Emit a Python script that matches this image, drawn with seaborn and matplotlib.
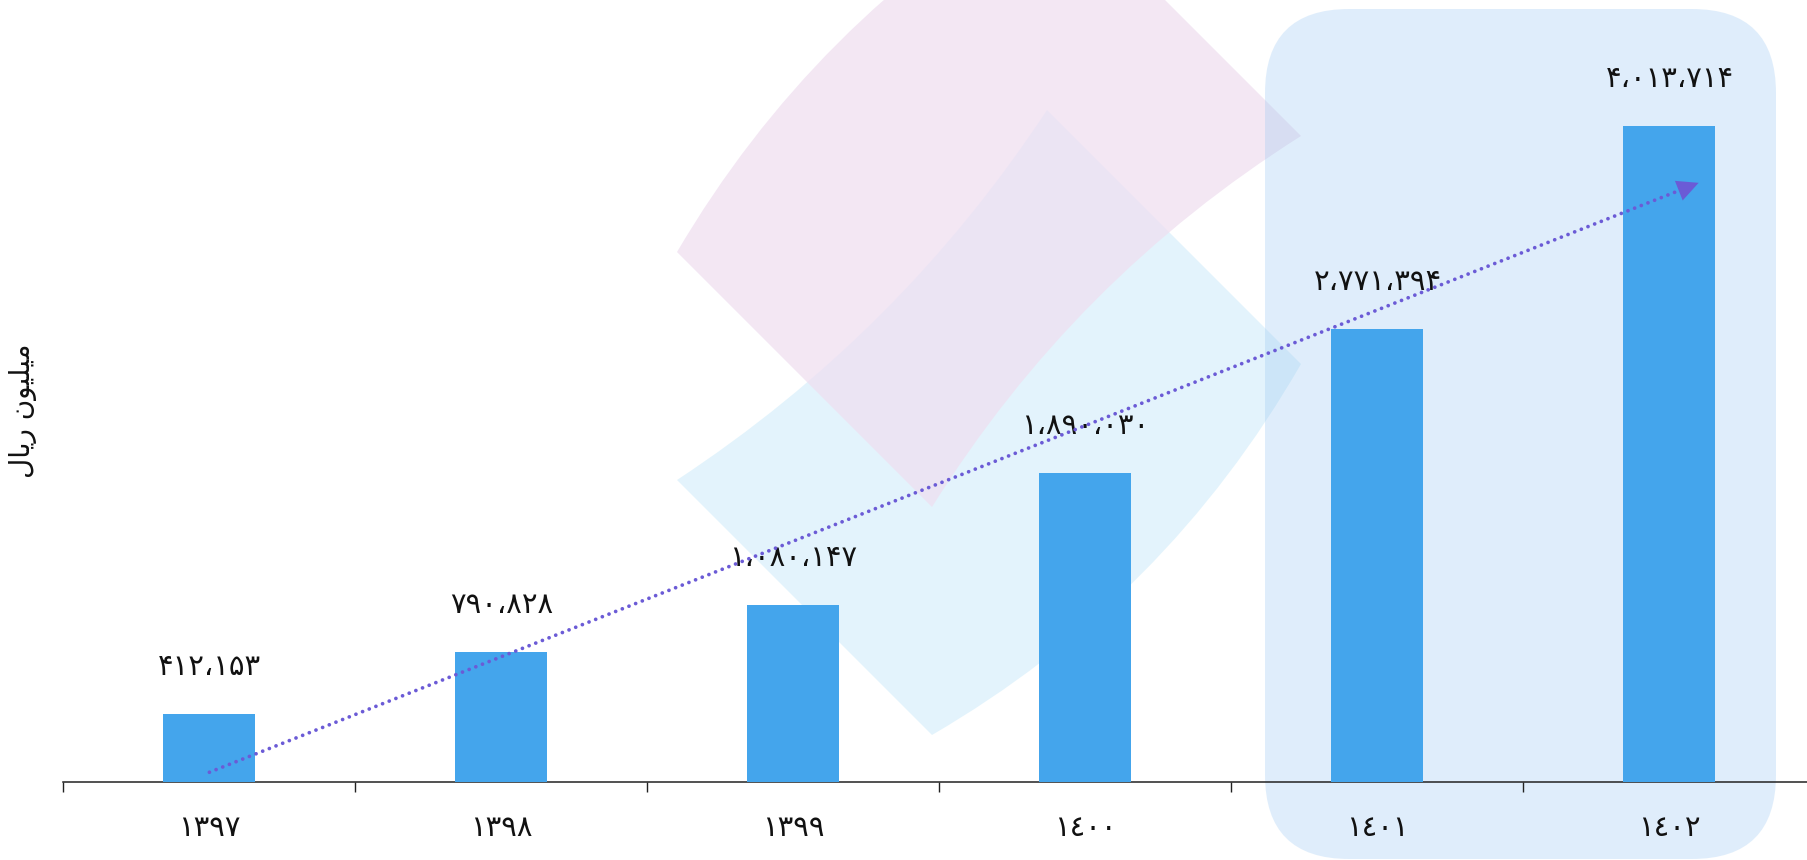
import numpy as np
import seaborn as sns
import matplotlib.pyplot as plt
from matplotlib.path import Path
from matplotlib.patches import PathPatch, FancyBboxPatch

# داده ها
years = ['١٣٩٧', '١٣٩٨', '١٣٩٩', '١٤٠٠', '١٤٠١', '١٤٠٢']
values = [412153, 790828, 1080147, 1890030, 2771394, 4013714]
# "میلیون ریال" with presentation forms, visual order
y_label = '\uFEDD\uFE8E\uFEF3\uFEAD \uFEE5\uFEEE\uFEF4\uFEE0\uFEF4\uFEE3'

bar_color = '#44a5ec'
trend_color = '#6b5bd6'

sns.set_style('white')
plt.rcParams['font.family'] = ['DejaVu Sans']

fa_digits = str.maketrans('0123456789,', '۰۱۲۳۴۵۶۷۸۹،')


def fa_num(v):
    return f'{v:,}'.translate(fa_digits)


W, H = 1807, 860
fig = plt.figure(figsize=(W / 100, H / 100), dpi=100)

# پس زمینه: لوگو و کادر
bg = fig.add_axes([0, 0, 1, 1], zorder=0)
bg.set_xlim(0, W)
bg.set_ylim(H, 0)
bg.axis('off')


def band(L, B, R, T, s_br, s_tl, n):
    L, B, R, T, n = map(np.array, (L, B, R, T, n))
    c1 = (B + R) / 2 + 2 * s_br * n
    c2 = (T + L) / 2 + 2 * s_tl * n
    verts = [L, B, c1, R, T, c2, L, L]
    codes = [Path.MOVETO, Path.LINETO, Path.CURVE3, Path.CURVE3,
             Path.LINETO, Path.CURVE3, Path.CURVE3, Path.CLOSEPOLY]
    return Path(verts, codes)


dr = (0.7071, 0.7071)
ul = (-0.7071, -0.7071)
blue_path = band((677, 480), (932, 735), (1301, 364), (1047, 110), 35, 27, dr)
pink_path = band((677, 252), (932, 507), (1301, 136), (1047, -118), 30, 34, ul)
bg.add_patch(PathPatch(blue_path, facecolor='#daf0fb', edgecolor='none', alpha=0.75, zorder=1))
bg.add_patch(PathPatch(pink_path, facecolor='#efdff0', edgecolor='none', alpha=0.75, zorder=2))

bg.add_patch(FancyBboxPatch((1265, 9), 511, 850,
                            boxstyle='round,pad=0,rounding_size=84',
                            facecolor='#98c6f2', edgecolor='none', alpha=0.3, zorder=3))

# نمودار اصلی
ax = fig.add_axes([63.4 / W, (H - 781.7) / H, 1752 / W, 784.2 / H], zorder=1)
ax.patch.set_alpha(0)

sns.barplot(x=years, y=values, ax=ax, color=bar_color, saturation=1,
            width=0.315, errorbar=None, linewidth=0, edgecolor='none', zorder=3)

for i, v in enumerate(values):
    ax.annotate(fa_num(v), (i, v), xytext=(0, 34), textcoords='offset points',
                ha='center', va='center', fontsize=21, color='#111111', zorder=5)

# خط روند
coef = np.polyfit(np.arange(len(values)), values, 1)
x_end = 5.1
xs = np.array([0, x_end - 0.04])
ax.plot(xs, np.polyval(coef, xs), color=trend_color, lw=2.7,
        linestyle=(0, (0.01, 1.9)), dash_capstyle='round', zorder=6)
ax.annotate('', xy=(x_end, np.polyval(coef, x_end)),
            xytext=(x_end - 0.06, np.polyval(coef, x_end - 0.06)),
            arrowprops=dict(arrowstyle='-|>,head_length=0.85,head_width=0.42',
                            color=trend_color, lw=0.01, shrinkA=0, shrinkB=0,
                            mutation_scale=18), zorder=6)

ax.set_xlim(-0.5, 5.5)
ax.set_ylim(0, 4.8e6)
ax.set_yticks([])
ax.set_xticks(range(len(years)), years)
ax.set_xticks(np.arange(-0.5, 6, 1), minor=True)
ax.tick_params(axis='x', which='major', bottom=False, length=0, pad=23,
               labelsize=21, labelcolor='#111111')
ax.tick_params(axis='x', which='minor', bottom=True, length=7.5, width=1.0,
               color='#222222', direction='out')
ax.set_xlabel('')
ax.set_ylabel('')
for s in ['left', 'top', 'right']:
    ax.spines[s].set_visible(False)
ax.spines['bottom'].set_linewidth(1.1)
ax.spines['bottom'].set_color('#222222')

fig.text(23 / W, 1 - 411 / H, y_label, rotation=90, ha='center', va='center',
         fontsize=20, color='#111111')

fig.savefig('out.png', dpi=100)
